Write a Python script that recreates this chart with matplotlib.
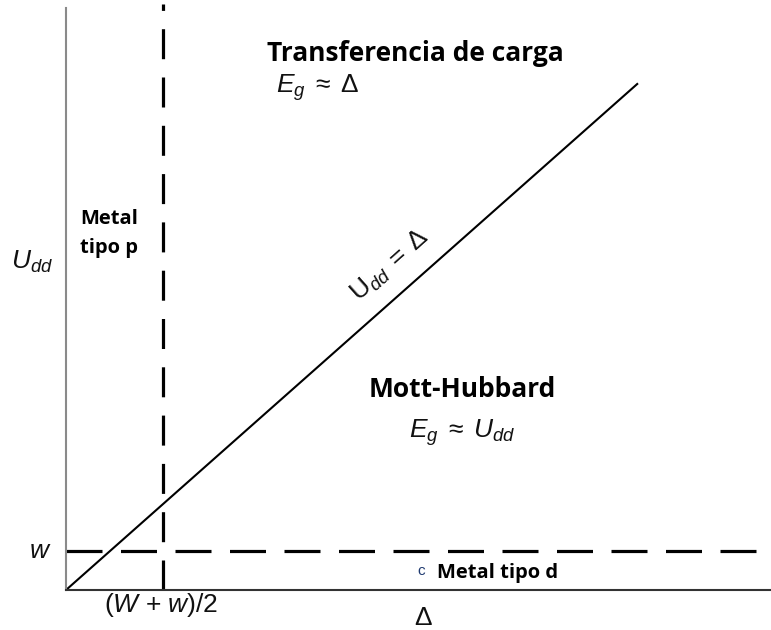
import matplotlib

matplotlib.use("Agg")
import matplotlib.pyplot as plt

plt.rcParams["mathtext.fontset"] = "custom"
plt.rcParams["mathtext.rm"] = "Liberation Sans"
plt.rcParams["mathtext.it"] = "Liberation Sans:italic"
plt.rcParams["font.family"] = ["Liberation Sans", "DejaVu Sans"]

# Udd = Delta boundary line (end points in chart units)
delta_line = [0.0, 5.72]
udd_line = [0.0, 5.72]

# (W + w)/2 vertical boundary and w horizontal boundary
p_metal_delta = 0.97
w_level = 0.44

x_max = 7.05
y_max = 6.57

BOLD = ["Open Sans", "DejaVu Sans"]
INK = "#111111"
MATH_SIZE = 19

fig = plt.figure(figsize=(7.71, 6.30), dpi=100)
ax = fig.add_axes([66 / 771, 40 / 630, 705 / 771, 582 / 630])
ax.set_xlim(0, x_max)
ax.set_ylim(0, y_max)

for side in ("top", "right"):
    ax.spines[side].set_visible(False)
ax.spines["left"].set_color("#8a8a8a")
ax.spines["left"].set_linewidth(1.5)
ax.spines["bottom"].set_color("#333333")
ax.spines["bottom"].set_linewidth(1.5)
ax.set_xticks([])
ax.set_yticks([])

ax.plot(delta_line, udd_line, color="black", lw=1.5, solid_capstyle="butt")

lw_dash = 2.3
px = lw_dash / 0.72
ax.plot([p_metal_delta, p_metal_delta], [0, y_max + 0.04], color="black",
        lw=lw_dash, dashes=(30 / px, 18.3 / px), clip_on=False)
ax.plot([0, x_max], [w_level, w_level], color="black",
        lw=lw_dash, dashes=(36 / px, 18.5 / px), clip_on=False)

ax.text(3.49, 6.06, "Transferencia de carga", family=BOLD, fontweight="bold",
        fontsize=19, ha="center", va="center", color="black")
ax.text(2.10, 5.67, r"$E_g\;\approx\;\Delta$", fontsize=MATH_SIZE, ha="left",
        va="center", color=INK)

ax.text(0.14, 4.02, "Metal\ntipo p", family=BOLD, fontweight="bold",
        fontsize=14.5, ha="left", va="center", linespacing=1.6, color="black")

ax.text(-0.34, 3.70, r"$U_{dd}$", fontsize=MATH_SIZE, ha="center",
        va="center", color=INK, clip_on=False)

ax.text(3.24, 3.66, r"$\mathrm{U}_{dd}\;=\;\Delta$", fontsize=MATH_SIZE,
        ha="center", va="center", rotation=41.5, rotation_mode="anchor",
        color=INK)

ax.text(3.96, 2.26, "Mott-Hubbard", family=BOLD, fontweight="bold",
        fontsize=19, ha="center", va="center", color="black")
ax.text(3.96, 1.78, r"$E_g\;\approx\;U_{dd}$", fontsize=MATH_SIZE,
        ha="center", va="center", color=INK)

ax.text(-0.26, w_level, r"$w$", fontsize=MATH_SIZE, ha="center",
        va="center", color=INK, clip_on=False)
ax.text(p_metal_delta - 0.02, -0.17, r"$(W$ + $w)$/2", fontsize=MATH_SIZE,
        ha="center", va="center", color=INK, clip_on=False)
ax.text(3.57, -0.32, r"$\Delta$", fontsize=MATH_SIZE, ha="center",
        va="center", color=INK, clip_on=False)

ax.text(3.55, 0.22, "c", fontsize=11, ha="center", va="center", color="#1f3a70")
ax.text(3.71, 0.19, "Metal tipo d", family=BOLD, fontweight="bold",
        fontsize=14.5, ha="left", va="center", color="black")

fig.savefig("out.png", dpi=100)
